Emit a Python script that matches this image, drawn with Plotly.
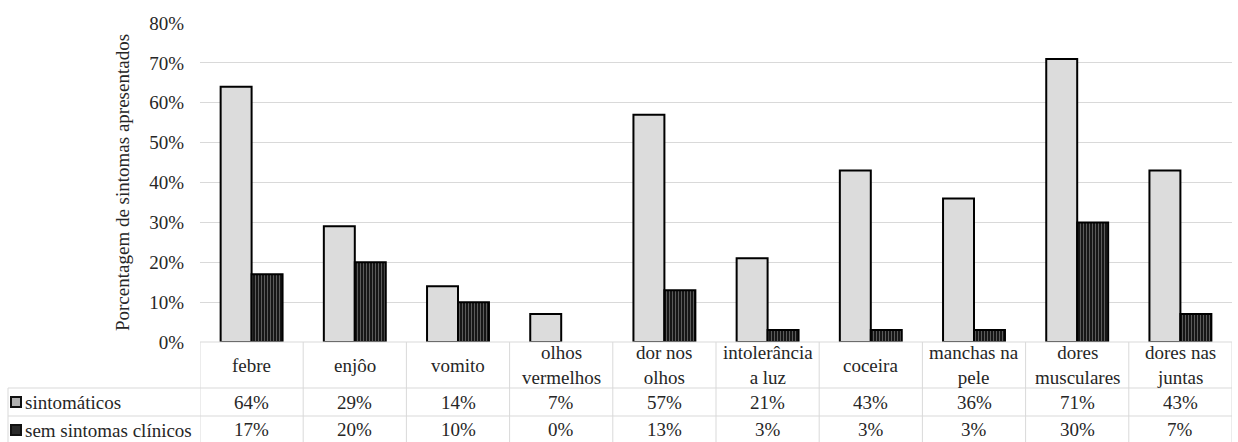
import plotly.graph_objects as go

categories = ["febre", "enjôo", "vomito", "olhos<br>vermelhos", "dor nos<br>olhos",
              "intolerância<br>a luz", "coceira", "manchas na<br>pele", "dores<br>musculares",
              "dores nas<br>juntas"]
sintomaticos = [64, 29, 14, 7, 57, 21, 43, 36, 71, 43]
sem_sintomas = [17, 20, 10, 0, 13, 3, 3, 3, 30, 7]
series_names = ["sintomáticos", "sem sintomas clínicos"]
y_ticks = [0, 10, 20, 30, 40, 50, 60, 70, 80]
y_tick_text = [f"{v}%" for v in y_ticks]

FONT = "Liberation Serif"
FS = 19
GRID = "#d9d9d9"
TXT = "#262626"

W, H = 1238, 442
ML, MR, MT, MB = 200, 6, 23, 100
plot_h = H - MT - MB
plot_w = W - ML - MR

x_idx = list(range(len(categories)))


def outline(values):
    # no border on empty bars so nothing is drawn for a 0% value
    return [0 if v == 0 else 2 for v in values]


fig = go.Figure()
fig.add_trace(go.Bar(
    x=x_idx, y=sintomaticos, name=series_names[0],
    marker=dict(color="white", line=dict(color="black", width=outline(sintomaticos)),
                pattern=dict(shape=".", fgcolor="#5e5e5e", bgcolor="white",
                             size=2, solidity=0.5)),
))
fig.add_trace(go.Bar(
    x=x_idx, y=sem_sintomas, name=series_names[1],
    marker=dict(color="#222", line=dict(color="black", width=outline(sem_sintomas)),
                pattern=dict(shape="|", fgcolor="#a0a0a0", bgcolor="#161616",
                             size=3, solidity=0.35)),
))

shapes = []
annotations = []
bottom = -MB / plot_h
row1 = -46 / plot_h
row2 = -74 / plot_h
left_edge = (8 - ML) / plot_w

# table grid: vertical separators at category boundaries
for i in range(len(categories) + 1):
    shapes.append(dict(type="line", xref="x", yref="paper",
                       x0=i - 0.5, x1=i - 0.5, y0=0, y1=bottom,
                       line=dict(color=GRID, width=1)))
# horizontal rules
shapes.append(dict(type="line", xref="paper", yref="paper", x0=0, x1=1, y0=0, y1=0,
                   line=dict(color=GRID, width=1)))
for yy in (row1, row2):
    shapes.append(dict(type="line", xref="paper", yref="paper", x0=left_edge, x1=1,
                       y0=yy, y1=yy, line=dict(color=GRID, width=1)))
shapes.append(dict(type="line", xref="paper", yref="paper", x0=left_edge, x1=left_edge,
                   y0=row1, y1=bottom, line=dict(color=GRID, width=1)))

cell_font = dict(family=FONT, size=FS, color=TXT)

# category labels and value rows
for i, cat in enumerate(categories):
    annotations.append(dict(x=i, y=0, xref="x", yref="paper", yshift=-23,
                            text=cat, showarrow=False, yanchor="middle", font=cell_font))
    annotations.append(dict(x=i, y=row1, xref="x", yref="paper", yshift=-14,
                            text=f"{sintomaticos[i]}%", showarrow=False, yanchor="middle",
                            font=cell_font))
    annotations.append(dict(x=i, y=row2, xref="x", yref="paper", yshift=-13,
                            text=f"{sem_sintomas[i]}%", showarrow=False, yanchor="middle",
                            font=cell_font))

# legend keys and names in the first table column
key_x0 = (11 - ML) / plot_w
key_x1 = (21 - ML) / plot_w
for yy, name, fill in ((row1, series_names[0], "#b0b0b0"), (row2, series_names[1], "#2a2a2a")):
    yc = yy - 14 / plot_h
    shapes.append(dict(type="rect", xref="paper", yref="paper",
                       x0=key_x0, x1=key_x1, y0=yc - 5 / plot_h, y1=yc + 5 / plot_h,
                       fillcolor=fill, line=dict(color="#111", width=2)))
    annotations.append(dict(x=(23 - ML) / plot_w, y=yc, xref="paper", yref="paper",
                            text=name, showarrow=False, xanchor="left", yanchor="middle",
                            font=cell_font))

fig.update_layout(
    width=W, height=H,
    margin=dict(l=ML, r=MR, t=MT, b=MB),
    paper_bgcolor="white", plot_bgcolor="white",
    barmode="group", bargap=0.4, bargroupgap=0,
    showlegend=False,
    shapes=shapes, annotations=annotations,
    font=dict(family=FONT, size=FS, color=TXT),
)
fig.update_xaxes(range=[-0.5, len(categories) - 0.5], showticklabels=False,
                 showgrid=False, zeroline=False, showline=False, ticks="")
fig.update_yaxes(range=[0, 80], tickmode="array", tickvals=y_ticks, ticktext=y_tick_text,
                 showgrid=True, gridcolor=GRID, gridwidth=1, zeroline=False,
                 showline=False, ticks="", ticklabelstandoff=15,
                 tickfont=dict(family=FONT, size=FS, color=TXT),
                 title=dict(text="Porcentagem de sintomas apresentados", standoff=14,
                            font=dict(family=FONT, size=FS, color=TXT)))

fig.write_html("out.html")
